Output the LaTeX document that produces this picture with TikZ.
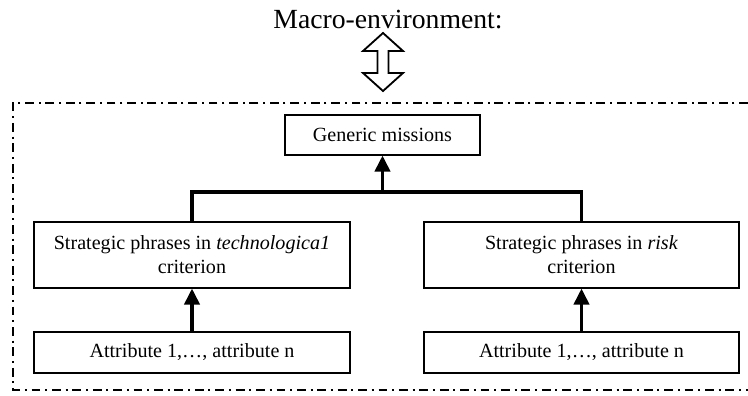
\documentclass[tikz,border=0pt]{standalone}
\usepackage{fontspec}
\setmainfont{Liberation Serif}
\usetikzlibrary{arrows.meta,positioning,calc}

\begin{document}
\begin{tikzpicture}[
  x=0.025cm, y=-0.025cm,
  every node/.style={font=\fontsize{14.3}{17}\selectfont},
  box/.style={rectangle, draw, line width=0.8pt, inner sep=2pt, align=center},
  flow/.style={line width=2.4pt},
  flowtip/.style={flow, -{Triangle[length=0.4cm, width=0.38cm]}},
  frame/.style={line width=1pt, dash pattern=on 0.22cm off 0.12cm on 0.05cm off 0.12cm},
]
\useasboundingbox (0,0) rectangle (748,395);

% title and the link to the macro-environment
\node[font=\fontsize{19.7}{23}\selectfont] (macro) at (388,20) {Macro-environment:};
\draw[line width=1.3pt, line join=miter] (383,33) -- (403,51) -- (388.5,51) -- (388.5,73) -- (403,73)
  -- (383,91) -- (363,73) -- (377.5,73) -- (377.5,51) -- (363,51) -- cycle;

% dash-dot frame, open on the right
\draw[frame] (748,103) -- (13,103) -- (13,390) -- (748,390);

% upper level
\node[box, minimum width=195*0.025cm, minimum height=40*0.025cm] (generic) at (382.5,135) {Generic missions};

% criteria
\node[box, minimum width=316*0.025cm, minimum height=66*0.025cm] (techphr) at (192,255)
  {Strategic phrases in \emph{technologica1}\\criterion};
\node[box, minimum width=315*0.025cm, minimum height=66*0.025cm] (riskphr) at (581.5,255)
  {Strategic phrases in \emph{risk}\\criterion};

% attributes
\node[box, minimum width=316*0.025cm, minimum height=41*0.025cm] (techattr) at (192,352.5)
  {Attribute 1,\dots, attribute n};
\node[box, minimum width=315*0.025cm, minimum height=41*0.025cm] (riskattr) at (581.5,352.5)
  {Attribute 1,\dots, attribute n};

% connectors
\coordinate (bar) at (382.5,192);
\draw[flow] (techphr.north) |- (bar) -| (riskphr.north);
\draw[flowtip] (bar) -- (generic.south);
\draw[flowtip] (techattr.north) -- (techphr.south);
\draw[flowtip] (riskattr.north) -- (riskphr.south);

\end{tikzpicture}
\end{document}
